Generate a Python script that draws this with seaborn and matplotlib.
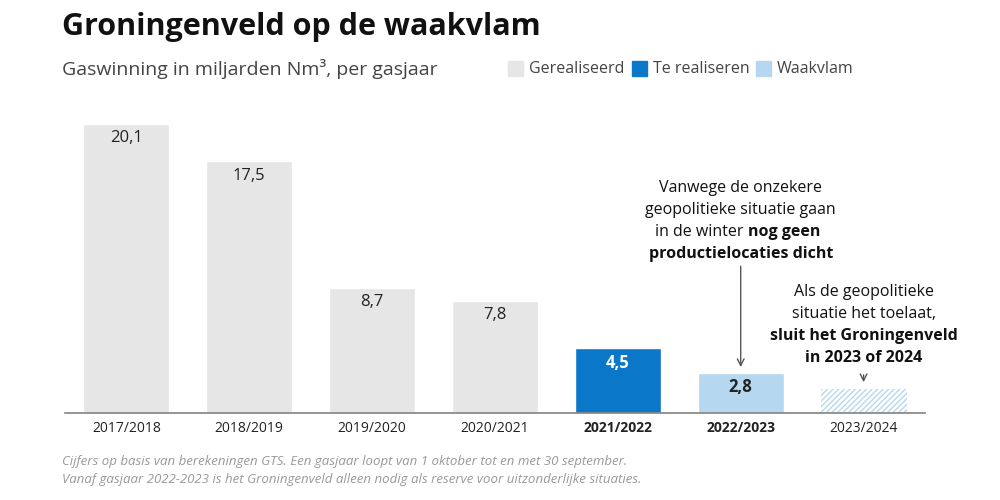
import matplotlib
matplotlib.use("Agg")
import matplotlib.pyplot as plt
import seaborn as sns
import pandas as pd

years = ["2017/2018","2018/2019","2019/2020","2020/2021","2021/2022","2022/2023","2023/2024"]
values = [20.1, 17.5, 8.7, 7.8, 4.5, 2.8, 1.7]
labels = ["20,1","17,5","8,7","7,8","4,5","2,8",""]
status = ["Gerealiseerd"]*4 + ["Te realiseren","Waakvlam","Waakvlam"]

sns.set_theme(style="white")
plt.rcParams['font.family'] = ['Open Sans', 'DejaVu Sans']
plt.rcParams['hatch.color'] = "#b5d7ef"

colors = {"Gerealiseerd":"#e6e6e6","Te realiseren":"#0a77c8","Waakvlam":"#b5d7ef"}
df = pd.DataFrame({"year":years,"value":values,"status":status})

fig = plt.figure(figsize=(10,5), dpi=100)
ax = fig.add_axes([0.065, 0.174, 0.86, 0.626])
sns.barplot(data=df, x="year", y="value", hue="status", palette=colors, dodge=False,
            width=0.70, ax=ax, legend=False, saturation=1)
ax.set_xlim(-0.5, 6.5)
ax.set_ylim(0, 21.77)
for p in ax.patches:
    if abs(p.get_height()-1.7) < 1e-6:
        p.set_facecolor("white"); p.set_edgecolor("#b5d7ef"); p.set_hatch("//////"); p.set_linewidth(0)
for i,(v,l) in enumerate(zip(values,labels)):
    if not l: continue
    bold = i >= 4
    ax.text(i, v-1.0, l, ha="center", va="center", fontsize=12,
            color="white" if i==4 else "#222222", fontweight="bold" if bold else "normal")
ax.set_yticks([]); ax.set_xlabel(""); ax.set_ylabel("")
sns.despine(ax=ax, left=True)
ax.spines['bottom'].set_color("#888888")
ax.tick_params(axis='x', length=0, labelsize=10, colors="#222222", pad=6)
for i, t in enumerate(ax.get_xticklabels()):
    if i in (4,5): t.set_fontweight("bold")

fig.text(0.062, 0.945, "Groningenveld op de waakvlam", fontsize=22, fontweight="bold", va="center", color="#111111")
fig.text(0.062, 0.862, "Gaswinning in miljarden Nm³, per gasjaar", fontsize=14, va="center", color="#444444")
lx = [0.508, 0.632, 0.756]
for x, (name, c) in zip(lx, colors.items()):
    fig.patches.append(plt.Rectangle((x, 0.848), 0.015, 0.03, transform=fig.transFigure, color=c))
    fig.text(x+0.021, 0.862, name, fontsize=11.5, va="center", color="#444444")

fs = 11.5
lh = 1.53
y0 = 16.2
ax.text(5.0, y0, "Vanwege de onzekere", ha="center", va="top", fontsize=fs, color="#111111")
ax.text(5.0, y0-lh, "geopolitieke situatie gaan", ha="center", va="top", fontsize=fs, color="#111111")
ax.text(5.06, y0-2*lh, "in de winter ", ha="right", va="top", fontsize=fs, color="#111111")
ax.text(5.06, y0-2*lh, "nog geen", ha="left", va="top", fontsize=fs, color="#111111", fontweight="bold")
ax.text(5.0, y0-3*lh, "productielocaties dicht", ha="center", va="top", fontsize=fs, color="#111111", fontweight="bold")
ax.annotate("", xy=(5.0, 3.0), xytext=(5.0, 10.4), arrowprops=dict(arrowstyle="->", color="#555555", lw=1))

y1 = 9.0
ax.text(6.0, y1, "Als de geopolitieke", ha="center", va="top", fontsize=fs, color="#111111")
ax.text(6.0, y1-lh, "situatie het toelaat,", ha="center", va="top", fontsize=fs, color="#111111")
ax.text(6.0, y1-2*lh, "sluit het Groningenveld", ha="center", va="top", fontsize=fs, color="#111111", fontweight="bold")
ax.text(6.0, y1-3*lh, "in 2023 of 2024", ha="center", va="top", fontsize=fs, color="#111111", fontweight="bold")
ax.annotate("", xy=(6.0, 1.95), xytext=(6.0, 2.85), arrowprops=dict(arrowstyle="->", color="#555555", lw=1))

fig.text(0.062, 0.078, "Cijfers op basis van berekeningen GTS. Een gasjaar loopt van 1 oktober tot en met 30 september.",
         fontsize=9.5, style="italic", color="#999999", va="center")
fig.text(0.062, 0.040, "Vanaf gasjaar 2022-2023 is het Groningenveld alleen nodig als reserve voor uitzonderlijke situaties.",
         fontsize=9.5, style="italic", color="#999999", va="center")
fig.savefig("out.png", dpi=100)
